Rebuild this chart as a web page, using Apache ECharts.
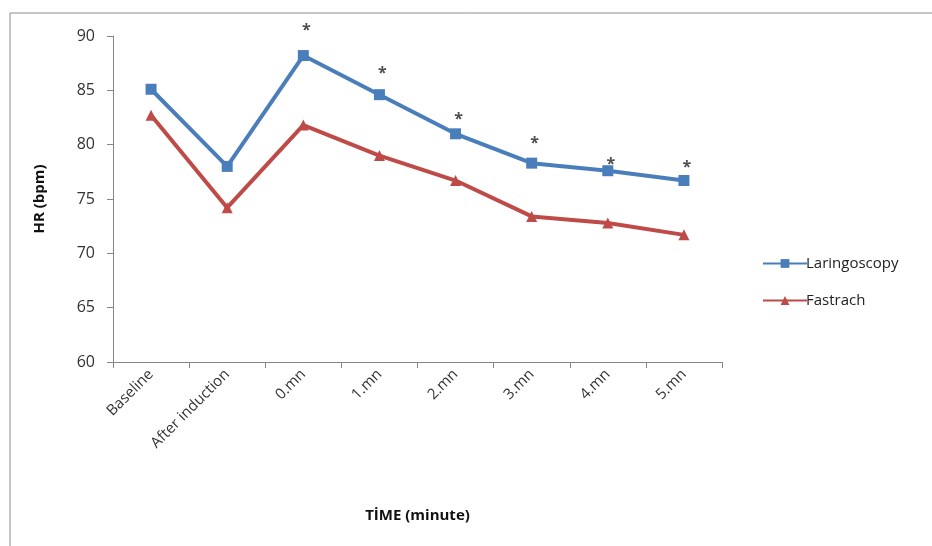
<!DOCTYPE html>
<html><head><meta charset="utf-8">
<script src="https://cdn.jsdelivr.net/npm/echarts@6/dist/echarts.min.js"></script>
<style>html,body{margin:0;padding:0;background:#fff}#c{width:932px;height:546px}</style>
</head><body><div id="c"></div>
<script>
const categories = ['Baseline','After induction','0.mn','1.mn','2.mn','3.mn','4.mn','5.mn'];
const laringoscopy = [85.1, 78.0, 88.2, 84.6, 81.0, 78.3, 77.6, 76.7];
const fastrach = [82.7, 74.2, 81.8, 79.0, 76.7, 73.4, 72.8, 71.7];
const asteriskY = [null, null, 90.7, 86.7, 82.5, 80.3, 78.4, 78.1];
const yTicks = [60, 65, 70, 75, 80, 85, 90];

const font = 'Open Sans, DejaVu Sans, sans-serif';
const chart = echarts.init(document.getElementById('c'));
chart.setOption({
  animation: false,
  backgroundColor: '#fff',
  graphic: [{type:'rect', shape:{x:10,y:13,width:940,height:560}, style:{fill:'none', stroke:'#8c8c8c', lineWidth:1}}],
  grid: {left:113, right:210, top:36, bottom:184},
  legend: {
    orient:'vertical', left:757, top:251, itemGap:22, itemWidth:44, itemHeight:11,
    data:['Laringoscopy','Fastrach'],
    textStyle:{fontFamily:font, fontSize:15, color:'#222', padding:[0,0,0,-6]}
  },
  xAxis: {
    type:'category', data:categories, boundaryGap:true,
    axisLine:{lineStyle:{color:'#868686'}},
    axisTick:{show:true, inside:false, length:6, alignWithLabel:false, lineStyle:{color:'#868686'}},
    axisLabel:{rotate:45, fontFamily:font, fontSize:15, color:'#333', margin:10, interval:0},
    name:'TİME (minute)', nameLocation:'middle', nameGap:146,
    nameTextStyle:{fontFamily:font, fontSize:15, fontWeight:'bold', color:'#111'}
  },
  yAxis: {
    type:'value', min:yTicks[0], max:yTicks[yTicks.length-1], interval:5,
    axisLine:{show:true, lineStyle:{color:'#868686'}},
    axisTick:{show:true, length:6, lineStyle:{color:'#868686'}},
    splitLine:{show:false},
    axisLabel:{fontFamily:font, fontSize:16, color:'#333', margin:18},
    name:'HR (bpm)', nameLocation:'middle', nameGap:66, nameRotate:90,
    nameTextStyle:{fontFamily:font, fontSize:15, fontWeight:'bold', color:'#111'}
  },
  series: [
    {name:'Laringoscopy', type:'line', data:laringoscopy, symbol:'rect', symbolSize:11,
     lineStyle:{width:4, color:'#4A7EBB'}, itemStyle:{color:'#4A7EBB'}},
    {name:'Fastrach', type:'line', data:fastrach, symbol:'triangle', symbolSize:11,
     lineStyle:{width:4, color:'#BE4B48'}, itemStyle:{color:'#BE4B48'}},
    {name:'sig', type:'scatter', data:asteriskY, symbolSize:0, clip:false, silent:true,
     label:{show:true, position:'inside', offset:[3,2], formatter:'*', fontFamily:font, fontSize:16, fontWeight:'bold', color:'#222'}}
  ]
});
</script></body></html>
